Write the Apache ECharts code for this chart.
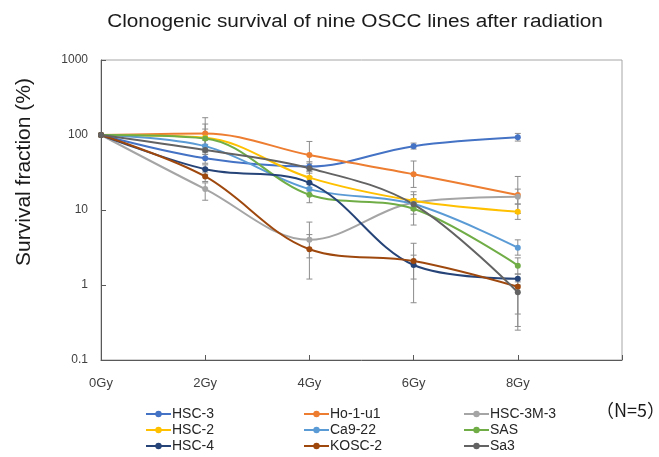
<!DOCTYPE html>
<html><head><meta charset="utf-8">
<script src="https://cdn.jsdelivr.net/npm/echarts@6.0.0/dist/echarts.min.js"></script>
<style>html,body{margin:0;padding:0;background:#fff}#c{width:659px;height:457px}</style>
</head><body><div id="c"></div>
<script>
// Categories (dose) — last empty slot gives the extra room on the right of the plot
const doseLabels = ['0Gy', '2Gy', '4Gy', '6Gy', '8Gy', ''];
const yTickValues = [0.1, 1, 10, 100, 1000];

const seriesNames = ['HSC-3', 'Ho-1-u1', 'HSC-3M-3', 'HSC-2', 'Ca9-22', 'SAS', 'HSC-4', 'KOSC-2', 'Sa3'];
const seriesColors = ['#4472C4', '#ED7D31', '#A5A5A5', '#FFC000', '#5B9BD5', '#70AD47', '#264478', '#9E480E', '#636363'];

// Survival fraction (%) at 0, 2, 4, 6, 8 Gy
const HSC3    = [100, 49, 38, 71, 93];
const Ho1u1   = [100, 105, 54, 30, 15.8];
const HSC3M3  = [100, 19, 4.0, 12.5, 15];
const HSC2    = [100, 92, 27, 13.3, 9.5];
const Ca922   = [100, 71, 19, 12, 3.15];
const SAS     = [100, 90, 16, 10.4, 1.81];
const HSC4    = [100, 35, 23, 1.85, 1.21];
const KOSC2   = [100, 28, 3.0, 2.09, 0.95];
const Sa3     = [100, 63, 36, 11.9, 0.80];

// Error bar ends (low / high) at each dose
const HSC3_lo   = [null, 42, 33, 65, 83];    const HSC3_hi   = [null, 58, 44, 78, 105];
const Ho1u1_lo  = [null, 65, 36, 20, 9];     const Ho1u1_hi  = [null, 170, 82, 45, 28];
const HSC3M3_lo = [null, 13.5, 2.3, 8.8, 12]; const HSC3M3_hi = [null, 23, 6.9, 17.5, 19];
const HSC2_lo   = [null, 70, 22, 11, 7.5];   const HSC2_hi   = [null, 140, 33, 16, 12];
const Ca922_lo  = [null, 60, 16, 10, 2.5];   const Ca922_hi  = [null, 85, 23, 14, 4];
const SAS_lo    = [null, 70, 12.5, 6.3, 1.4]; const SAS_hi    = [null, 120, 20, 12, 2.3];
const HSC4_lo   = [null, 30, 18, 0.58, 0.41]; const HSC4_hi   = [null, 40, 28, 3.6, 1.4];
const KOSC2_lo  = [null, 24, 1.2, 1.2, 0.28]; const KOSC2_hi  = [null, 32, 4.7, 2.5, 1.1];
const Sa3_lo    = [null, 55, 31, 10, 0.25];  const Sa3_hi    = [null, 75, 42, 14, 1.0];

const values = [HSC3, Ho1u1, HSC3M3, HSC2, Ca922, SAS, HSC4, KOSC2, Sa3];
const lows   = [HSC3_lo, Ho1u1_lo, HSC3M3_lo, HSC2_lo, Ca922_lo, SAS_lo, HSC4_lo, KOSC2_lo, Sa3_lo];
const highs  = [HSC3_hi, Ho1u1_hi, HSC3M3_hi, HSC2_hi, Ca922_hi, SAS_hi, HSC4_hi, KOSC2_hi, Sa3_hi];

const FONT = '"Liberation Sans", Arial, sans-serif';
const chart = echarts.init(document.getElementById('c'), null, {renderer: 'canvas'});

function errSeries(idx) {
  const data = [];
  lows[idx].forEach((l, i) => { if (l != null) data.push([i, l, highs[idx][i]]); });
  return {
    type: 'custom', name: seriesNames[idx] + ' err', silent: true, z: 1,
    data: data,
    encode: {x: 0, y: [1, 2]},
    renderItem: function (params, api) {
      const x = api.value(0);
      const p1 = api.coord([x, api.value(1)]);
      const p2 = api.coord([x, api.value(2)]);
      const w = 3;
      const st = {stroke: '#8c8c8c', lineWidth: 1};
      return {type: 'group', children: [
        {type: 'line', shape: {x1: p1[0], y1: p1[1], x2: p2[0], y2: p2[1]}, style: st},
        {type: 'line', shape: {x1: p1[0] - w, y1: p1[1], x2: p1[0] + w, y2: p1[1]}, style: st},
        {type: 'line', shape: {x1: p2[0] - w, y1: p2[1], x2: p2[0] + w, y2: p2[1]}, style: st}
      ]};
    }
  };
}

const lineSeries = seriesNames.map((n, i) => ({
  type: 'line', name: n, data: values[i], smooth: 0.35,
  symbol: 'circle', symbolSize: 6, z: 3,
  lineStyle: {width: 2, color: seriesColors[i]},
  itemStyle: {color: seriesColors[i]}
}));

const legendCommon = {
  orient: 'vertical', itemWidth: 25, itemHeight: 8, itemGap: 2, padding: 0,
  textStyle: {fontFamily: FONT, fontSize: 14, lineHeight: 14, color: '#262626', padding: [0, 0, 0, -4]},
  top: 407
};

chart.setOption({
  animation: false,
  color: seriesColors,
  grid: {left: 101, right: 37, top: 60, bottom: 97, show: true, borderColor: '#a6a6a6', borderWidth: 1},
  xAxis: {
    type: 'category', data: doseLabels, boundaryGap: false,
    axisLine: {lineStyle: {color: '#595959', width: 1}},
    axisTick: {inside: true, length: 5, lineStyle: {color: '#595959'}},
    axisLabel: {fontFamily: FONT, fontSize: 13, color: '#404040', margin: 17},
    splitLine: {show: false}
  },
  yAxis: {
    type: 'log', logBase: 10, min: 0.1, max: 1000,
    axisLine: {show: true, lineStyle: {color: '#595959', width: 1}},
    axisTick: {show: true, inside: true, length: 5, lineStyle: {color: '#595959'}},
    axisLabel: {fontFamily: FONT, fontSize: 12, color: '#404040', margin: 13,
      formatter: v => { const t = yTickValues.find(k => Math.abs(Math.log10(k) - Math.log10(v)) < 1e-6); return t != null ? String(t) : ''; }},
    splitLine: {show: false}
  },
  legend: [
    Object.assign({}, legendCommon, {left: 145, data: ['HSC-3', 'HSC-2', 'HSC-4']}),
    Object.assign({}, legendCommon, {left: 303, data: ['Ho-1-u1', 'Ca9-22', 'KOSC-2']}),
    Object.assign({}, legendCommon, {left: 463, data: ['HSC-3M-3', 'SAS', 'Sa3']})
  ],
  graphic: [
    {type: 'text', x: 355, y: 22, scaleX: 1.155,
      style: {text: 'Clonogenic survival of nine OSCC lines after radiation', fontFamily: 'Liberation Sans', fontSize: 18,
        fill: '#1a1a1a', align: 'center', verticalAlign: 'middle'}},
    {type: 'text', x: 24, y: 172, rotation: Math.PI / 2,
      style: {text: 'Survival fraction (%)', fontFamily: 'Liberation Sans', fontSize: 21, fill: '#1a1a1a', align: 'center', verticalAlign: 'middle'}},
    {type: 'text', x: 596, y: 410,
      style: {text: '（N=5）', fontFamily: 'Noto Sans CJK JP', fontSize: 18, fill: '#1a1a1a', align: 'left', verticalAlign: 'middle'}}
  ],
  series: lineSeries.concat(seriesNames.map((n, i) => errSeries(i)))
});
</script>
</body></html>
